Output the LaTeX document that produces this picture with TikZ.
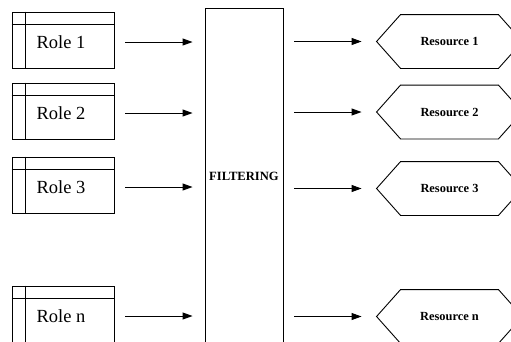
\documentclass[tikz,border=0pt]{standalone}
\usepackage{fontspec}
\setmainfont{Liberation Serif}
\usetikzlibrary{arrows.meta,calc}
\begin{document}
\begin{tikzpicture}[x=1pt,y=1pt,
  line width=0.9pt,
  rolebox/.style={draw, rectangle, minimum width=102pt, minimum height=56pt, inner sep=0pt},
  roletext/.style={font=\fontsize{18.5}{20}\selectfont, inner sep=0pt},
  restext/.style={font=\fontsize{12.4}{14}\selectfont\bfseries, inner sep=0pt},
  hexcore/.style={rectangle, minimum width=97pt, minimum height=53pt, inner sep=0pt},
  filt/.style={draw, rectangle, minimum width=78pt, minimum height=337pt, inner sep=0pt, font=\fontsize{12.6}{14}\selectfont\bfseries},
  arr/.style={-{Triangle[length=10pt,width=7pt]}, line width=0.9pt}
]
\useasboundingbox (0,0) rectangle (511,-341);

% Filtering
\node[filt] (filt) at (244,-176.5) {FILTERING};

% Roles
\foreach \i/\y/\t in {1/42/Role 1, 2/113/Role 2, 3/187/Role 3, n/316/Role n}{
  \node[rolebox] (role\i) at (63,-\y+2) {};
  \draw ([yshift=-13pt]role\i.north west) -- ([yshift=-13pt]role\i.north east);
  \draw ([xshift=14pt]role\i.north west) -- ([xshift=14pt]role\i.south west);
  \node[roletext] (rl\i) at (61,-\y) {\t};
  \coordinate (ra\i) at (role\i.east |- rl\i);
  \coordinate (fa\i) at (filt.west |- rl\i);
  \draw[arr, shorten <=11pt, shorten >=12pt] (ra\i) -- (fa\i);
}

% Resources
\foreach \i/\y/\t in {1/41.5/Resource 1, 2/112/Resource 2, 3/188.5/Resource 3, n/316.5/Resource n}{
  \node[hexcore] (res\i) at (449.5,-\y) {};
  \draw (res\i.north west) -- (res\i.north east) -- ($(res\i.east)+(24,0)$) -- (res\i.south east)
        -- (res\i.south west) -- ($(res\i.west)+(-24,0)$) -- cycle;
  \node[restext] (rt\i) at (res\i.center) {\t};
  \coordinate (fb\i) at (filt.east |- res\i);
  \draw[arr, shorten <=11pt, shorten >=39pt] (fb\i) -- (res\i.west);
}
\end{tikzpicture}
\end{document}
